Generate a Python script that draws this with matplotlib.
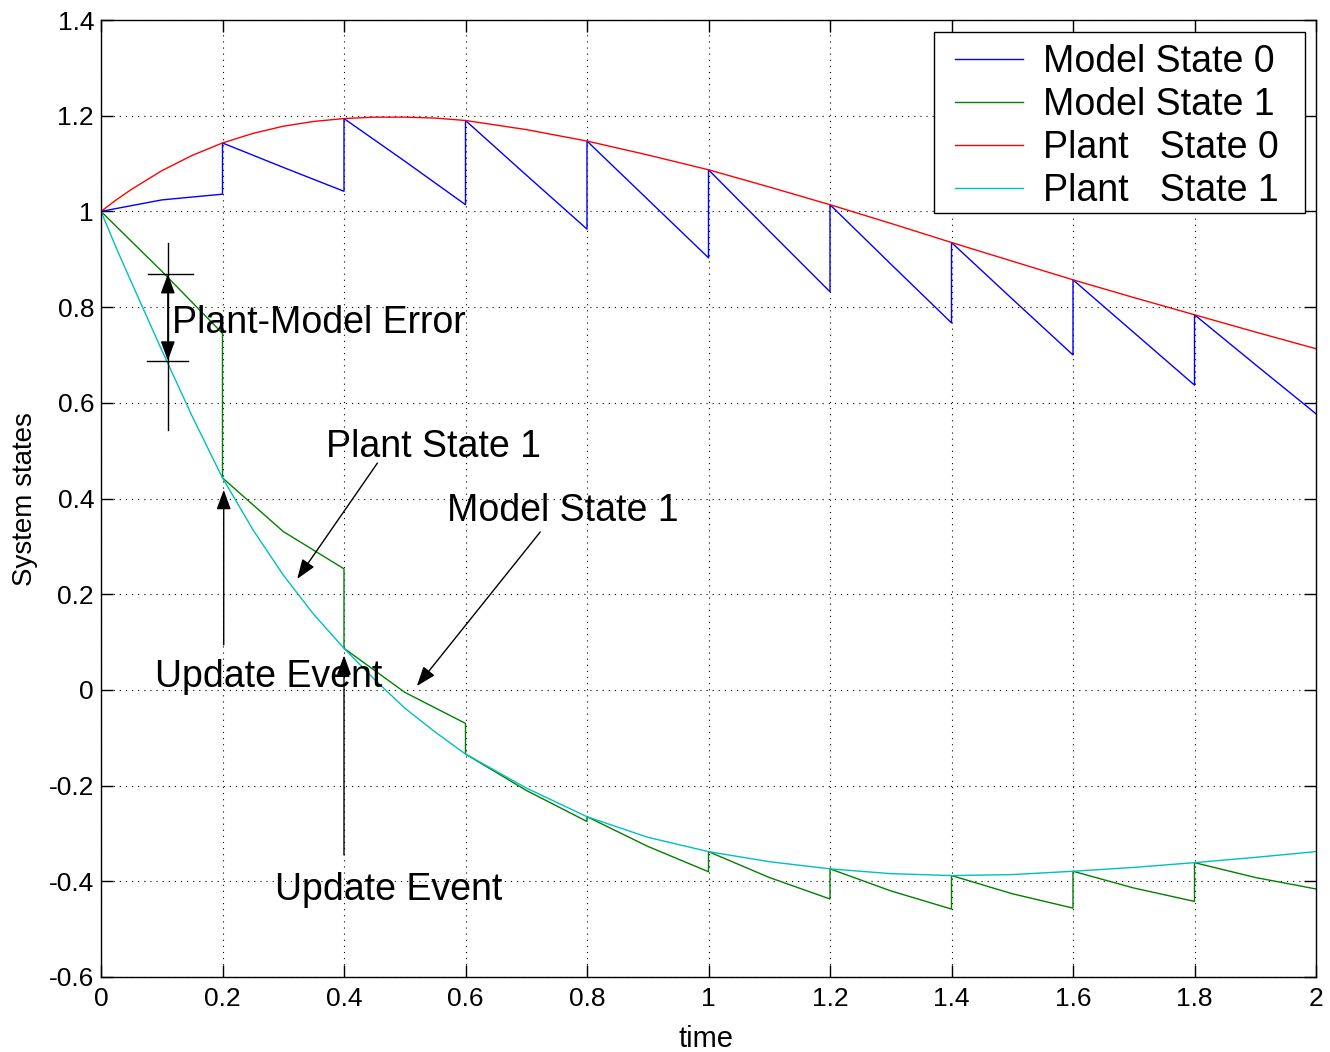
import numpy as np
import matplotlib.pyplot as plt
from matplotlib.patches import Rectangle
from matplotlib.ticker import FuncFormatter

plt.rcParams['font.family'] = ['Liberation Sans', 'DejaVu Sans']
plt.rcParams['axes.unicode_minus'] = False

# plant trajectories (continuous)
t_plant = [0.0, 0.025, 0.05, 0.1, 0.15, 0.2, 0.25, 0.3, 0.35, 0.4, 0.45, 0.5, 0.55, 0.6,
           0.7, 0.8, 0.9, 1.0, 1.1, 1.2, 1.3, 1.4, 1.5, 1.6, 1.7, 1.8, 1.9, 2.0]
plant0 = [1.0, 1.024, 1.046, 1.085, 1.117, 1.143, 1.163, 1.178, 1.188, 1.194, 1.197, 1.197, 1.195, 1.19,
          1.171, 1.147, 1.118, 1.087, 1.051, 1.014, 0.975, 0.935, 0.896, 0.857, 0.82, 0.784, 0.748, 0.713]
plant1 = [1.0, 0.924, 0.852, 0.71, 0.572, 0.443, 0.335, 0.24, 0.158, 0.087, 0.022, -0.038, -0.088, -0.134,
          -0.205, -0.265, -0.308, -0.338, -0.359, -0.374, -0.384, -0.388, -0.386, -0.379, -0.371, -0.361, -0.35, -0.338]

# model trajectories, reset to the plant at every update event
seg_start_t = [0.0, 0.2, 0.4, 0.6, 0.8, 1.0, 1.2, 1.4, 1.6, 1.8]
seg_len = 0.2
model0_start = [1.0, 1.143, 1.194, 1.19, 1.147, 1.087, 1.014, 0.935, 0.857, 0.784]
model0_mid = [1.024, 1.092, 1.105, 1.076, 1.025, 0.959, 0.89, 0.817, 0.747, 0.68]
model0_end = [1.036, 1.042, 1.014, 0.963, 0.903, 0.832, 0.767, 0.700, 0.637, 0.577]
model1_start = [1.0, 0.443, 0.087, -0.134, -0.265, -0.338, -0.374, -0.388, -0.379, -0.361]
model1_mid = [0.875, 0.331, -0.005, -0.21, -0.327, -0.392, -0.42, -0.426, -0.414, -0.392]
model1_end = [0.745, 0.253, -0.07, -0.275, -0.38, -0.437, -0.458, -0.456, -0.442, -0.416]


def piecewise(starts, mids, ends):
    tt, yy = [], []
    for t0, a, b, c in zip(seg_start_t, starts, mids, ends):
        tt += [t0, t0 + seg_len / 2, t0 + seg_len]
        yy += [a, b, c]
    return tt, yy


fig = plt.figure(figsize=(13.3, 10.52), dpi=100)
ax = fig.add_axes([101 / 1330, 75 / 1052, 1215 / 1330, 957 / 1052])

lw = 1.0
t_m0, y_m0 = piecewise(model0_start, model0_mid, model0_end)
t_m1, y_m1 = piecewise(model1_start, model1_mid, model1_end)
ax.plot(t_m0, y_m0, color=(0, 0, 1), lw=lw, label='Model State 0')
ax.plot(t_m1, y_m1, color=(0, 0.5, 0), lw=lw, label='Model State 1')
ax.plot(t_plant, plant0, color=(1, 0, 0), lw=lw, label='Plant   State 0')
ax.plot(t_plant, plant1, color=(0, 0.75, 0.75), lw=lw, label='Plant   State 1')

ax.set_xlim(0, 2)
ax.set_ylim(-0.6, 1.4)
ax.set_xticks(np.arange(0, 2.01, 0.2))
ax.set_yticks(np.arange(-0.6, 1.41, 0.2))
fmt = FuncFormatter(lambda v, p: '{:g}'.format(round(v, 2)))
ax.xaxis.set_major_formatter(fmt)
ax.yaxis.set_major_formatter(fmt)
ax.tick_params(direction='in', length=8.5, width=1, labelsize=19,
               top=True, right=True)
ax.tick_params(axis='x', pad=7)
ax.tick_params(axis='y', pad=5)
for s in ax.spines.values():
    s.set_linewidth(1.0)
ax.grid(True, color='black', linestyle=(0, (1, 4.5)), linewidth=0.8)

ax.set_xlabel('time', fontsize=21)
ax.set_ylabel('System states', fontsize=20)
ax.xaxis.set_label_coords(0.498, -0.05)
ax.yaxis.set_label_coords(-0.052, 0.4995)

# legend box drawn by hand so the padding can differ per side
box = Rectangle((0.6856, 0.7983), 0.991 - 0.6856, 0.9875 - 0.7983,
                transform=ax.transAxes, facecolor='white', edgecolor='black',
                lw=1.0, zorder=4.5)
ax.add_patch(box)
leg = ax.legend(loc='upper left', bbox_to_anchor=(0.7029, 0.975), fontsize=27,
                frameon=False, handlelength=1.8, handletextpad=0.55,
                labelspacing=0.19, borderpad=0, borderaxespad=0)
leg.set_zorder(5)

# annotations
txt = dict(fontsize=27, color='black', ha='left', va='baseline')
head = dict(arrowstyle='-|>,head_length=0.6,head_width=0.22', color='black',
            lw=1, mutation_scale=20, shrinkA=0, shrinkB=0)

# plant-model error marker
ax.plot([0.110, 0.110], [0.934, 0.543], color='black', lw=1)
ax.plot([0.077, 0.151], [0.869, 0.869], color='black', lw=1)
ax.plot([0.076, 0.143], [0.688, 0.688], color='black', lw=1)
ax.annotate('', xy=(0.110, 0.869), xytext=(0.110, 0.78), arrowprops=head)
ax.annotate('', xy=(0.110, 0.688), xytext=(0.110, 0.78), arrowprops=head)
ax.text(0.117, 0.746, 'Plant-Model Error', **txt)

ax.text(0.370, 0.486, 'Plant State 1', **txt)
ax.annotate('', xy=(0.323, 0.232), xytext=(0.455, 0.474), arrowprops=head)

ax.text(0.570, 0.353, 'Model State 1', **txt)
ax.annotate('', xy=(0.520, 0.008), xytext=(0.723, 0.330), arrowprops=head)

ax.text(0.089, 0.007, 'Update Event', **txt)
ax.annotate('', xy=(0.202, 0.418), xytext=(0.202, 0.094), arrowprops=head)

ax.text(0.286, -0.439, 'Update Event', **txt)
ax.annotate('', xy=(0.4, 0.072), xytext=(0.4, -0.345), arrowprops=head)

fig.savefig('out.png', dpi=100)
